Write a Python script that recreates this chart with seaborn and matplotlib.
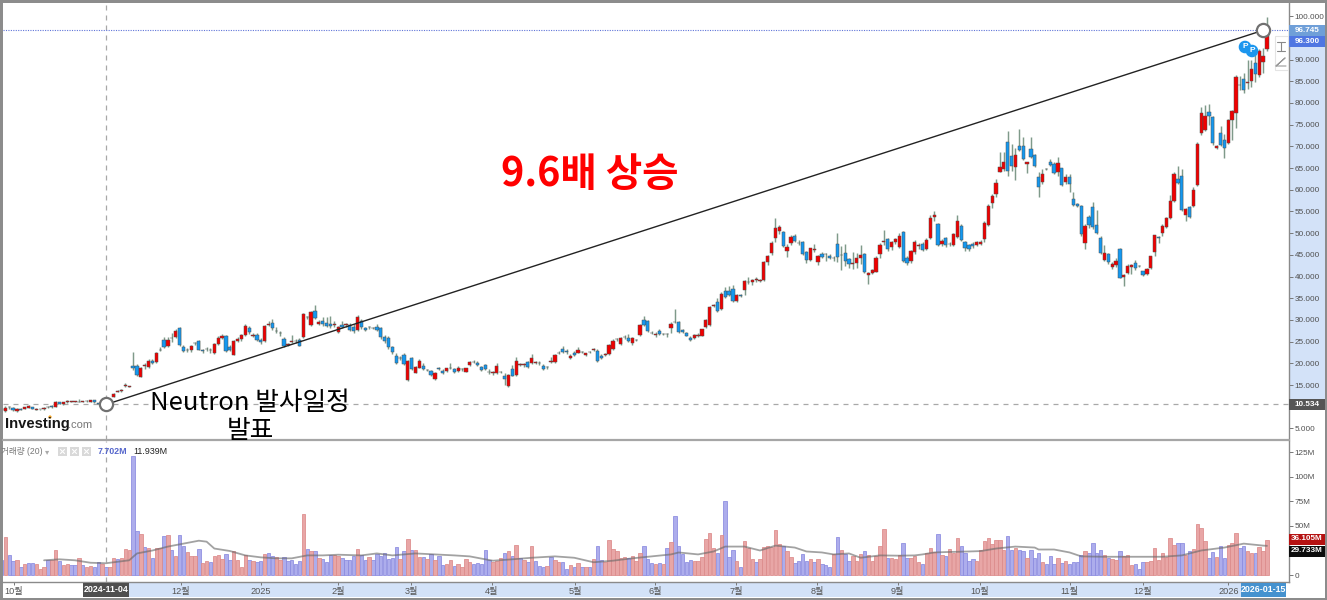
import matplotlib
matplotlib.use("Agg")
import matplotlib.pyplot as plt
from matplotlib.colors import to_hex
from matplotlib.patches import Rectangle, Circle
import numpy as np
import pandas as pd
import seaborn as sns

# ---------- data (prices, in USD; volume in millions) ----------
opens = [9.6,9.0,9.9,9.7,9.0,9.6,9.6,9.8,9.9,9.3,
 9.4,9.4,9.85,10.2,10.0,11.1,10.6,11.0,11.2,11.2,
 11.1,11.2,11.25,11.1,11.5,10.8,10.9,10.9,
 10.6,12.25,13.5,13.7,14.85,14.65,19.5,19.47,16.94,19.45,
 19.1,20.6,20.4,23.1,25.5,24,25.75,26,28.1,23.85,
 23.1,23.1,24.7,25.1,23,23.3,23,22.4,24.5,25.9,
 26.4,23.7,22,25.1,25.6,26.5,28.2,26.4,26.5,25.5,
 25.1,28.9,29.2,27.4,27,25.6,24.3,25,25.05,25.4,
 26,30.6,28.9,32,29.1,29.7,29.3,29.15,28.9,27.2,
 28.9,28.9,28.8,28.3,27.7,29.7,28.1,28.3,28.1,28.4,
 28.1,26,25.9,23.7,21.8,21.2,22,16.25,21.2,17.9,
 19,19.5,18.5,18.17,16.4,19,18.3,18.2,19,18.7,
 18.3,18.6,18.1,19.55,20.3,20.2,19.2,19.7,18,17.7,
 17.8,17.95,17.1,14.7,18.6,17.4,19.7,19.7,20.25,20,
 20.2,20.1,19.5,19.1,20.4,20.3,22.4,23.3,22.9,21.2,
 22.5,22.5,22.55,21.9,22.55,23.15,22.9,21.8,22,22.1,
 23.25,25.55,24.5,26,25.8,24.7,25.4,26.55,30,29.7,
 27,26.6,27.4,26.75,26.75,28.15,29.6,29.5,27.7,27.1,
 25.85,25.85,26.4,26.4,28.3,28.9,33.3,34.07,32.5,36.6,
 36.6,37.1,34.45,35.75,36.9,38.65,38.65,39.3,39.05,39.3,
 43.3,45.5,48.8,50.6,50.2,46,47.65,49.4,47.75,48,
 45.6,43.9,46.2,43.3,45.2,45.1,44.75,44.3,47.5,45,
 45.4,44,43,43.05,44.4,45.2,40.3,40.75,41.15,45.2,
 48.05,48.65,46.9,47.9,46.9,50.35,44.3,43.5,45.6,47.1,
 47.5,46.3,49,53.65,52.1,47.5,48.9,47.5,47.3,49.2,
 51.7,48,47.3,47.5,47.2,47.5,48.65,52,56.9,59,
 64,64.9,70.9,67.9,65.3,70.1,70.1,65.9,69.3,68.1,
 63,61.7,64.8,66.3,65.9,64.2,65,61.8,63,57.9,
 56.7,56.3,47.7,53.65,56.1,52,48.9,43.8,45.2,42.1,
 42.6,46.3,39.8,40.75,42.1,43.2,42.4,41.2,40.6,42,
 45.7,49,50.1,51.35,53.5,57.5,62.5,63.2,54.3,56.1,
 56.3,61.2,73,73.8,78,76.85,69.55,73.1,71.5,70.7,
 76.1,77.8,84.1,85.5,84.7,85.1,89.2,86.4,89.4,92.4]

closes = [9.3,9.7,9.85,9.2,9.6,9.3,9.9,10.1,9.5,9.6,
 9.45,9.8,9.9,9.9,11.2,10.7,11.0,11.3,11.25,11.25,
 11.15,11.25,11.3,11.5,11.0,10.7,10.6,10.53,
 11.2,13.0,13.6,13.75,14.9,14.7,18.9,17.4,19,19.5,
 20.5,20.2,22.5,23.2,23.85,25.5,25.8,27.4,24.25,22.95,
 23.05,23.9,24.75,23.1,22.95,23.35,23.05,24.5,25.9,26.4,
 22.9,23.1,25.1,25.6,26.5,28.7,27.15,26.45,25.5,25,
 28.7,28.95,28.1,27.35,26.95,24.1,24.3,25.05,25.1,24.1,
 31.4,30.65,31.8,30.4,29.6,29,28.7,28.6,28.95,28.3,
 28.5,28.95,27.7,27.4,30.8,28.3,27.7,28.35,28.15,27.7,
 26,25.2,23.7,22.55,20.2,21.25,19.9,20.5,18.7,19.1,
 20.5,18.7,18.45,17.4,17.8,18.7,17.7,18.9,18.95,18,
 18.9,18.65,18.9,20.3,20.35,19.55,18.5,18.7,18,18.1,
 19.3,18,16.3,17.4,17.2,20.6,19.75,19.75,19.1,21.15,
 20.25,20.15,18.6,19.15,20.45,22,22.45,22.7,22.55,21.8,
 22,23.1,22.6,22.3,22.6,23.2,20.6,21.25,22.05,24.15,
 25.1,25.6,25.85,26.05,25.25,25.85,25.45,28.85,28.9,27.4,
 26.95,26.65,26.8,26.8,26.8,29.05,29.55,27.15,27.3,26.4,
 25.4,26.55,26.45,27.9,30,32.9,33.35,32.15,36.1,35.4,
 35.8,34.3,35.8,35.6,39.05,38.7,39.3,39.35,39.1,43.3,
 44.65,47.7,51.2,51.5,47.1,46.9,49.2,48.1,47.8,45.2,
 43.9,46.5,46.25,44.8,44.6,45.15,44.3,44.35,44.6,45.05,
 43.7,43,43.05,44.4,45.05,41,40.75,41.5,44.4,47.35,
 48.1,46.35,47.9,48.65,49.4,43.5,43.1,45.8,47.9,47.15,
 46.1,48.4,53.4,54.1,47.35,48.1,47.2,47.55,49.8,52.9,
 48.5,46.7,46.3,47,48,48,52.4,56.3,58.6,61.5,
 65.3,66.5,64.4,65.4,68.1,69.2,67.1,66.3,67.5,65.4,
 60.7,63.6,64.85,65.7,63.8,66.2,61.1,63,61.3,56.6,
 56.3,49.7,51.65,52,51.35,50,45.35,45.5,43.35,42.9,
 43.65,39.7,40.4,42.5,42.7,42,42.45,40.4,41.8,44.7,
 49.5,48.95,51.65,53.5,57.5,63.6,61.5,55.3,55.6,53.8,
 60,70.5,77.6,77.1,77.1,70.7,70.2,70.4,69.6,76.1,
 78.2,86.1,84.15,83,84.75,87.8,86.7,91.9,90.9,96.3]

lows = [9.2,8.9,9.6,9.1,8.9,9.2,9.5,9.7,9.4,9.2,
 9.3,9.3,9.7,9.8,9.9,10.6,10.5,10.9,11.0,11.0,
 11.0,11.0,11.1,11.0,10.9,10.6,10.5,10.4,
 10.5,12.2,13.3,13.4,14.5,14.5,18.5,17.2,16.8,18.8,
 18.9,19.9,20.2,22.8,23.6,23.8,25,25.8,24.1,22.6,
 22.7,22.7,24.3,23,22.5,22.9,22.4,22.2,24.2,25.6,
 22.6,22.8,21.9,24.9,25.2,26.3,26.8,26,25.2,24.4,
 25,28.6,27.6,26.9,26.4,23.7,24,24.6,24.7,24,
 25.9,30.2,28.7,30.2,28.9,28.6,28.3,28.1,28.3,26.9,
 28.1,28.5,27.5,27.1,27.4,28,27.4,28,27.9,27.4,
 25.7,24.8,23.4,22.1,19.9,20.8,19.6,16,18.4,17.7,
 18.9,18.4,18.2,17,16.1,18.4,17.5,18,18.7,17.9,
 18.1,18.3,18,19.4,20,19.3,18.3,18.5,17.6,17.4,
 17.6,17.7,15.1,14.5,17,17.2,19.3,19.2,18.9,19.8,
 19.9,19.7,18.4,18.8,20.2,20.1,22.1,22.3,22.2,20.9,
 21.8,22.3,22.3,21.7,22.3,22.8,20.4,21,21.7,21.9,
 23,25.2,24.3,25.7,25,24.3,25.1,26.4,28.6,27.2,
 26.7,26.1,26.5,26.5,26,26.9,29.2,27,27,26.2,
 25.2,25.6,26.1,26.2,28.1,28.6,33,31.9,32.3,35,
 35.5,34.1,34.1,35.2,35.7,38.4,38.1,38.8,38.7,39,
 42.6,44.9,47.9,49.7,46.9,44.6,47.3,47.9,47.3,45,
 43.1,43.6,45.7,42.6,44.2,43.7,44,43.7,43.3,41.6,
 42.5,42,41.8,41.9,43,40.8,38.4,40.5,41,44.3,
 47.3,46,46.1,47.5,46.5,43.3,42.7,43.1,45.2,46.4,
 45.8,46.1,48.7,52.8,47.1,47,46.9,47,47,49,
 48.3,46,46,46.6,47,47.2,48,51.6,55.9,58.3,
 64,64.4,63.25,64.4,62.25,69,66.9,63.9,67.3,65.2,
 58.4,61.3,64.6,65.55,63.6,63.25,60.9,61.3,59.4,56.3,
 56.1,49.4,46.35,51.3,51,49.8,45.2,43.7,43,41.75,
 42.3,39.6,37.75,40.6,40.6,41.5,42.2,40.2,40.4,41.8,
 44.8,47.65,49.4,51.2,53.25,57.1,61.3,55.2,52.9,53.6,
 56.1,60.9,72.7,73.5,75,70.4,69.3,70.1,67.3,70.5,
 71.5,74.2,82.9,82.4,83.2,83.7,84.8,86,87,92]

highs = [9.8,10.1,10.1,9.9,9.8,9.8,10,10.3,10,9.7,
 9.6,9.9,10.1,10.3,11.3,11.2,11.1,11.5,11.4,11.4,
 11.8,11.4,11.5,11.6,11.6,10.9,11,11,
 11.3,13.1,13.9,14,15.4,14.9,22.7,19.9,19.2,20,
 20.9,21,22.6,23.7,26,26,27,28,28.3,24.3,
 23.6,24.3,25,25.4,23.4,23.7,23.5,24.7,26.3,26.7,
 26.6,24.3,25.3,26,26.8,29,28.7,27,26.9,25.8,
 28.9,29.7,30.2,28.4,27.5,26,24.8,26.5,25.6,25.8,
 31.6,31,32,33.4,29.9,30.7,30.6,30.9,29.8,28.6,
 29.8,29.3,29.4,29,31.2,30.2,28.5,28.7,28.5,29,
 28.4,26.5,26.2,24.1,22.3,21.6,22.5,20.8,21.5,19.5,
 20.9,20,18.8,18.5,18,19.2,18.7,19,20.1,19,
 19.3,19,19,20.5,20.7,20.6,19.4,19.9,18.6,18.3,
 20,18.3,17.7,17.6,19.6,21.4,20.1,20,20.5,22.2,
 20.6,20.5,19.9,19.4,21.5,22.2,22.8,24,23.3,22.1,
 22.8,23.7,22.9,22.5,22.8,23.6,23.3,22.1,22.4,24.4,
 25.6,25.8,26.1,26.5,26.7,26,25.7,29.1,31,30,
 27.4,27.2,28,27.1,27,29.5,32.6,29.8,28,27.3,
 26.3,26.8,26.9,28,30.2,33.2,33.7,35,36.4,37.7,
 37.8,38,36,36,39.3,39.8,39.5,39.9,39.4,43.5,
 44.9,48.3,53.5,52,50.5,47.5,49.5,49.7,48.4,48.2,
 46,46.7,47.6,45,45.6,45.4,45.2,44.8,50,47,
 47.5,44.4,45.6,45.5,47.2,45.4,41.1,41.8,44.7,47.8,
 50.8,49,48.2,49,50,50.6,44.8,46.1,48.5,47.8,
 48,48.8,54.2,55.2,52.3,48.6,49.2,47.9,50,54.3,
 52.1,48.3,47.6,47.9,48.3,48.4,52.7,56.7,59.1,62.6,
 68.6,68.6,73.6,70.5,69.6,74,72.2,66.5,72.2,68.3,
 64,64.8,65,67.1,66.3,67.5,65.1,63.6,63.6,59.6,
 56.9,56.5,52.1,54.25,57.1,55.3,49.4,47.35,45.4,43.3,
 44.3,46.5,40.6,42.9,42.9,43.8,42.7,41.4,42,44.8,
 49.6,49.4,52.1,53.65,58.9,64,65.4,64.8,55.8,56.3,
 60.55,70.9,79,79.5,79.8,77,70.4,74.7,72.8,76.4,
 78.5,86.4,86.2,87,89.9,90,91,92.4,92.6,99.8]

volumes = [15,39,20,14.5,15,8.5,11,12,12,11,
 6.5,8,15,15,26,14.5,10,11,10,10,
 17,10,8.5,9,8.5,13,11,7.7,
 8.5,17,16,17,27,25,121,45,42,29,
 28,17,28,28,40,41,26,19,41,30,
 23,19,19,27,12,14,13,19,20,16,
 21,15,24,15,8.5,20,15,14,13,14,
 21,22,19,18,15,18,14,15,11,14,
 62,27,24,24,17,16,13,20,20,19,
 17,15,15,19,27,20,15,18,15,21,
 19,22,16,17,29,16,24,37,26,25,
 18,18,16,21,15,19,10,11,15,9,
 11,8.5,16,13.5,11,12,11,25,15,13.5,
 14,17,22,24,19,31,17,15,13,30,
 14,9,8.5,9,18,15,13.5,13,6,10,
 8,12,8,8,8,16,30,15,13.5,36,
 27,24,17,18,17,19,14,22,30,16,
 12,11,12,11,28,34,60,30,21,13,
 15,14,14.5,18,37,43,28,22,41,75.6,
 18,26,14,8,35,28,16,13.5,16,29,
 30,28.5,46,32,29.5,24,18,12,14,21,
 14,16,13,16,11,10.5,8,21,39,25,
 21,14,19,14,21,24,20,14,19,29.5,
 47,17,17,16,20,33,17,17,19,13,
 11,22,27.5,23,42,20,19,27,22,38,
 30,22,14,16,14,25,35,38,32,36,
 36,25,40,26,28,26,24,17,25,17,
 22,13,11,19,11,17,12,14,11,13,
 13,20,24,22,33,22,26,20,17,16,
 15,24,19,20,10,11,6,13,13,14,
 28,15,22,18,38,31,33,33,20,24,
 27,52,48,35,17,23,18,29.5,17,31,
 33,43,28,29.5,24,22,22,29,24,36.105]

volume_sides = list(
 "brbbrbrbbr" "rrbrrbrrbb" "rbrrbbrb"
 "rrbrrrbbrb" "rbrrbrbrbb" "rrrbrrbrrr"
 "bbrrrrbrbb" "rbbrrbbbbb" "rbrbrbbbrr"
 "bbbbrbbrbb" "bbbbbrbrbr" "rbrbrbbrrb"
 "rrrrbbbbbr" "rrbrbrbrbr" "bbbrbrrbbr"
 "brbrbrbbrr" "rrrrbrrrbb" "brbrbrbbbb"
 "brrrrrrbrb" "bbrbrrrbrr" "rrrrbrrbbb"
 "brbrbbbrbr" "bbrrrbrrrr" "rbrrrbbrrr"
 "brrrbrbrrr" "bbbbrrrrrr" "rrbbrbbrbb"
 "brbbbrbrbb" "bbrbbbbrbr" "rbrrrbbbrr"
 "rrrrrrbbrb" "rrrrbbrbbr" "rrbbrrbrrr")

ma_positions = [11,15,19,23,27,31,33,35,39,43,47,51,53,55,59,63,67,71,75,79,83,
 87,93,97,101,107,112,117,121,125,127,132,137,143,148,153,158,163,168,173,175,
 180,184,187,192,196,200,205,208,212,215,219,222,227,232,236,238,241,244,250,253,
 257,262,267,268,272,276,279,285,291,300,305,310,316,321,326,327]
ma_values = [15,16,15,12.5,12,14,15,22,25,29,32,35,34,27,24.5,20,18,17,17,20,20,
 20.7,20,22,20,22,21,20,19,16,14.6,16,17.6,19,17.6,13,14.6,17,19,21,23,
 21,24,29,29,25,30,28,24,23,21,22,17.6,20,19.7,20,21,23,23.4,24,24.4,
 27,29,28,26,26,23,19,18.6,18.6,18.6,20,25,28,32,30,29.73]

month_ticks = [3.2,46.4,67,86.9,105.8,126.7,148.2,168.9,189.8,210.7,231.6,252.8,276,295,317]
month_labels = ["10월","12월","2025","2월","3월","4월","5월","6월","7월","8월","9월","10월","11월","12월","2026"]
price_ticks = [5,10,15,20,25,30,35,40,45,50,55,60,65,70,75,80,85,90,95,100]
price_covered = [10, 95]
volume_ticks = [0,25,50,75,100,125]
volume_tick_labels = ["0","","50M","75M","100M","125M"]

anchor_positions = [27, 326]
anchor_prices = [10.534, 96.745]

# ---------- style ----------
W, H = 1327, 600
sns.set_theme(style="white")
FONT = ["Liberation Sans", "Noto Sans CJK KR", "DejaVu Sans"]
plt.rcParams["font.family"] = FONT
plt.rcParams["axes.unicode_minus"] = False

RED, BLUE, WICK = "#f00000", "#1498f0", "#7f9a8a"
BAND = "#d3e2f8"

candles = pd.DataFrame({"pos": np.arange(len(opens)), "open": opens, "close": closes,
                        "low": lows, "high": highs, "volume": volumes, "side": volume_sides})
candles["up"] = candles["close"] >= candles["open"]
ma = pd.DataFrame({"pos": ma_positions, "value": ma_values})

fig = plt.figure(figsize=(W / 100, H / 100), dpi=100, facecolor="white")


def axes_px(left, top, right, bottom, **kw):
    return fig.add_axes([left / W, (H - bottom) / H, (right - left) / W, (bottom - top) / H], **kw)


def band(left, top, right, bottom, color):
    fig.add_artist(Rectangle((left / W, (H - bottom) / H), (right - left) / W, (bottom - top) / H,
                             transform=fig.transFigure, facecolor=color, edgecolor="none", zorder=-5))


band(1289, 31, 1325, 404, BAND)
band(106, 583, 1285, 597, BAND)

# ---------- price pane ----------
XLIM = (0.385, 332.7)
ax_p = axes_px(3, 3, 1289, 440)
ax_p.patch.set_alpha(0)
ax_p.set_xlim(*XLIM)
ax_p.set_ylim(2.35, 103.04)

ax_p.axhline(10.534, color="#a8a8a8", lw=0.9, ls=(0, (4, 4)), zorder=1)
ax_p.axvline(anchor_positions[0], color="#a8a8a8", lw=0.9, ls=(0, (4, 4)), zorder=1)
ax_p.axhline(96.745, color="#5f74d8", lw=0.8, ls=(0, (1, 1.2)), zorder=1)

ax_p.vlines(candles["pos"], candles["low"], candles["high"], color=WICK, lw=1.05, zorder=2)
ax_p.bar(candles["pos"], (candles["close"] - candles["open"]).abs().clip(lower=0.08),
         bottom=candles[["open", "close"]].min(axis=1), width=0.84,
         color=np.where(candles["up"], RED, BLUE), edgecolor="#4f4f4f", linewidth=0.35, zorder=3)

ax_p.plot(anchor_positions, anchor_prices, color="#222222", lw=1.0, zorder=4)
ax_p.plot(anchor_positions, anchor_prices, ls="", marker="o", ms=9.5, mfc="white", mec="#707070", mew=1.6, zorder=5)

ax_p.yaxis.tick_right()
ax_p.set_yticks(price_ticks)
ax_p.set_yticklabels(["" if v in price_covered else f"{v:.3f}" for v in price_ticks])
ax_p.tick_params(axis="y", length=3, width=0.7, color="#777777", labelsize=5.9, labelcolor="#505050", pad=1, right=True, left=False)
ax_p.set_xticks([])
for side, spine in ax_p.spines.items():
    spine.set_visible(side in ("right", "bottom"))
    spine.set_color("#8a8a8a")
    spine.set_linewidth(1.4 if side == "bottom" else 1.0)

# ---------- volume pane ----------
ax_v = axes_px(3, 441, 1289, 582)
ax_v.patch.set_alpha(0)
sns.barplot(data=candles, x="pos", y="volume", hue="side", palette={"r": "#e8a6a6", "b": "#adadec"},
            native_scale=True, dodge=False, width=0.88, saturation=1, legend=False, ax=ax_v, zorder=2,
            errorbar=None)
for container in ax_v.containers:
    for bar in container:
        face = to_hex(bar.get_facecolor())
        bar.set_edgecolor("#dc8a8a" if face == "#e8a6a6" else "#8a8ae0")
        bar.set_linewidth(0.55)
sns.lineplot(data=ma, x="pos", y="value", color="#6a6a6a", lw=1.3, alpha=0.62, ax=ax_v, zorder=4, errorbar=None)
ax_v.axvline(anchor_positions[0], color="#a8a8a8", lw=0.9, ls=(0, (4, 4)), zorder=1)
ax_v.set_xlim(*XLIM)
ax_v.set_ylim(-7.14, 136.7)
ax_v.set_xlabel("")
ax_v.set_ylabel("")
ax_v.yaxis.tick_right()
ax_v.set_yticks(volume_ticks)
ax_v.set_yticklabels(volume_tick_labels)
ax_v.tick_params(axis="y", length=3, width=0.7, color="#777777", labelsize=5.9, labelcolor="#505050", pad=1, right=True, left=False)
ax_v.set_xticks(month_ticks)
ax_v.set_xticklabels(month_labels)
ax_v.tick_params(axis="x", length=2, width=0.7, color="#777777", labelsize=6.6, labelcolor="#555555", pad=1.5, bottom=True)
for side, spine in ax_v.spines.items():
    spine.set_visible(side in ("right", "bottom"))
    spine.set_color("#8a8a8a")
    spine.set_linewidth(1.0)

# ---------- overlay: annotation text and the chart's chrome ----------
ov = axes_px(0, 0, W, H, zorder=10)
ov.set_xlim(0, W)
ov.set_ylim(H, 0)
ov.axis("off")
ov.patch.set_alpha(0)

ov.text(590, 175, "9.6배 상승", color="#ff0000", fontsize=28.5, fontweight="bold",
        family=["Noto Sans CJK KR"], ha="center", va="center")
ov.text(250, 403, "Neutron 발사일정", color="black", fontsize=18.5, family=["Noto Sans CJK KR"], ha="center", va="center")
ov.text(250, 431, "발표", color="black", fontsize=18.5, family=["Noto Sans CJK KR"], ha="center", va="center")

# logo
ov.text(5, 424, "Investing", color="#161616", fontsize=10.6, fontweight="bold", ha="left", va="center")
ov.text(68, 425.5, ".com", color="#777777", fontsize=8, ha="left", va="center")
ov.add_patch(Circle((50, 417), 0.9, color="#f0a020"))


def box(text, y, face, left=1289, right=1325, color="white", weight="bold", size=5.9):
    ov.add_patch(Rectangle((left, y - 5.5), right - left, 11, facecolor=face, edgecolor="none"))
    ov.text((left + right) / 2, y, text, color=color, fontsize=size, fontweight=weight, ha="center", va="center")


box("96.745", 30.5, "#6f9fd8")
box("96.300", 41.5, "#4f76e2")
box("10.534", 404, "#555555")
box("36.105M", 539, "#b51212")
box("29.733M", 551, "#0c0c0c")

# date labels on the strip
for text, left, right, face in [("2024-11-04", 83, 129, "#4f4f4f"), ("2026-01-15", 1241, 1286, "#4592cf")]:
    ov.add_patch(Rectangle((left, 583), right - left, 14, facecolor=face, edgecolor="none"))
    ov.text((left + right) / 2, 590, text, color="white", fontsize=6.4, fontweight="bold", ha="center", va="center")

# P badges
for cx, cy in [(1245, 47), (1252, 51)]:
    ov.add_patch(Circle((cx, cy), 5.6, color="#1c96ee", zorder=6))
    ov.text(cx, cy, "P", color="white", fontsize=6, fontweight="bold", ha="center", va="center", zorder=7)

# toolbar
ov.add_patch(Rectangle((1275, 36), 13, 34, facecolor="white", edgecolor="#e4e4e4", lw=0.8))
ov.plot([1277, 1285], [42, 42], color="#888888", lw=0.8)
ov.plot([1277, 1285], [51, 51], color="#888888", lw=0.8)
ov.plot([1281, 1281], [42, 51], color="#888888", lw=0.8)
ov.plot([1276, 1285, 1276, 1286], [66, 58, 66, 66], color="#999999", lw=0.8)

# volume header
ov.text(1, 451.5, "거래량 (20)", color="#777777", fontsize=6.2, ha="left", va="center")
ov.text(45, 451.5, "▾", color="#aaaaaa", fontsize=6, ha="left", va="center", family=["DejaVu Sans"])
for x in (58, 70, 82):
    ov.add_patch(Rectangle((x, 447), 9, 9, facecolor="#d9d9d9", edgecolor="none"))
    ov.plot([x + 2.5, x + 6.5], [449.5, 453.5], color="white", lw=0.8)
    ov.plot([x + 2.5, x + 6.5], [453.5, 449.5], color="white", lw=0.8)
ov.text(98, 451.5, "7.702M", color="#5566cc", fontsize=6.4, fontweight="bold", ha="left", va="center")
ov.text(133, 451.5, "11.939M", color="#222222", fontsize=6.4, ha="left", va="center")

# outer frame
for (l, t, w, h) in [(0, 0, W, 2.5), (0, 0, 3, H), (0, 597.5, W, 2.5), (1325, 0, 2, H)]:
    ov.add_patch(Rectangle((l, t), w, h, facecolor="#8c8c8c", edgecolor="none"))
ov.plot([3, 1289], [440, 440], color="#a6a6a6", lw=1.6)

fig.savefig("out.png", dpi=100)
